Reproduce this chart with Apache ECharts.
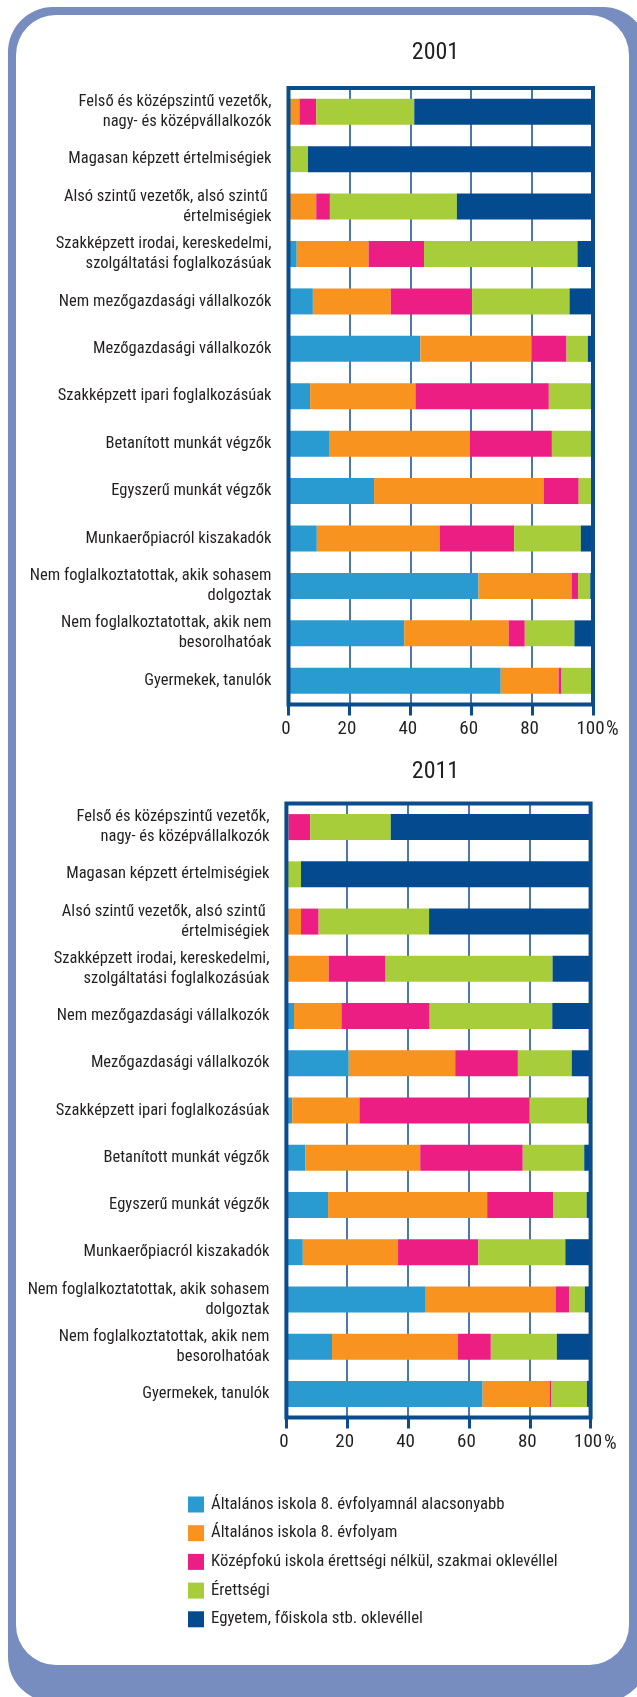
<!DOCTYPE html>
<html>
<head>
<meta charset="utf-8">
<script src="https://cdn.jsdelivr.net/npm/echarts@6/dist/echarts.min.js"></script>
<style>
html, body { margin: 0; padding: 0; background: #fff; }
#canvas { width: 637px; height: 1697px; }
</style>
</head>
<body>
<div id="canvas"></div>
<script>
var FONT = "'Roboto Condensed', 'DejaVu Sans Condensed', sans-serif";
var TXT = '#231F20';
var NAVY = '#0B4C8E';

var categories = [
  'Felső és középszintű vezetők,\nnagy- és középvállalkozók',
  'Magasan képzett értelmiségiek',
  'Alsó szintű vezetők, alsó szintű \nértelmiségiek',
  'Szakképzett irodai, kereskedelmi,\nszolgáltatási foglalkozásúak',
  'Nem mezőgazdasági vállalkozók',
  'Mezőgazdasági vállalkozók',
  'Szakképzett ipari foglalkozásúak',
  'Betanított munkát végzők',
  'Egyszerű munkát végzők',
  'Munkaerőpiacról kiszakadók',
  'Nem foglalkoztatottak, akik sohasem\ndolgoztak',
  'Nem foglalkoztatottak, akik nem\nbesorolhatóak',
  'Gyermekek, tanulók'
];

var seriesNames = [
  'Általános iskola 8. évfolyamnál alacsonyabb',
  'Általános iskola 8. évfolyam',
  'Középfokú iskola érettségi nélkül, szakmai oklevéllel',
  'Érettségi',
  'Egyetem, főiskola stb. oklevéllel'
];
var colors = ['#299BD0', '#F7931E', '#EC1E83', '#A8CD3A', '#034B8E'];

var xTicks = [0, 20, 40, 60, 80, 100];

// 2001
var a2001 = [0, 0, 0, 2.7, 8.0, 43.3, 7.1, 13.3, 28.1, 9.3, 62.4, 38.0, 69.7];
var b2001 = [3.6, 0, 9.1, 23.6, 25.6, 36.6, 34.6, 46.2, 55.8, 40.4, 30.7, 34.3, 19.0];
var c2001 = [5.5, 0, 4.5, 18.2, 26.7, 11.4, 43.8, 27.0, 11.4, 24.4, 2.0, 5.3, 0.8];
var d2001 = [32.2, 6.4, 41.7, 50.4, 32.0, 7.0, 13.8, 12.8, 4.4, 21.9, 4.0, 16.3, 10.2];
var e2001 = [58.7, 93.6, 44.7, 5.1, 7.7, 1.7, 0.7, 0.7, 0.3, 4.0, 0.9, 6.1, 0.3];

// 2011
var a2011 = [0, 0, 0, 0.3, 2.5, 20.5, 1.9, 6.2, 13.7, 5.4, 45.8, 15.0, 64.5];
var b2011 = [0.7, 0, 4.8, 13.6, 15.6, 35.0, 22.1, 37.8, 52.3, 31.3, 42.7, 41.3, 22.0];
var c2011 = [7.1, 0, 5.8, 18.7, 29.0, 20.6, 55.9, 33.7, 21.7, 26.4, 4.5, 10.9, 0.5];
var d2011 = [26.5, 4.8, 36.3, 54.9, 40.3, 17.7, 18.9, 20.2, 11.0, 28.6, 5.1, 21.7, 11.8];
var e2011 = [65.7, 95.2, 53.1, 12.5, 12.6, 6.2, 1.2, 2.1, 1.3, 8.3, 1.9, 11.1, 1.2];

var data2001 = [a2001, b2001, c2001, d2001, e2001];
var data2011 = [a2011, b2011, c2011, d2011, e2011];

function xAxisFor(idx) {
  return {
    type: 'value', gridIndex: idx, min: 0, max: 100, interval: 20,
    axisLine: { show: false },
    axisTick: { show: true, length: 11, lineStyle: { color: NAVY, width: 3 } },
    splitLine: { show: true, lineStyle: { color: NAVY, width: 1.5 } },
    axisLabel: {
      margin: 15, fontFamily: FONT, fontSize: 19, color: TXT, padding: [0, 5, 0, 0],
      formatter: function (v) { return xTicks.indexOf(v) >= 0 ? String(v) : ''; }
    }
  };
}

function yAxisFor(idx) {
  return {
    type: 'category', gridIndex: idx, data: categories, inverse: true,
    axisLine: { show: false }, axisTick: { show: false }, splitLine: { show: false },
    axisLabel: { margin: 17, fontFamily: FONT, fontSize: 16.5, lineHeight: 20, color: TXT, align: 'right' }
  };
}

var series = [];
[data2001, data2011].forEach(function (set, gi) {
  set.forEach(function (vals, si) {
    series.push({
      name: seriesNames[si], type: 'bar', stack: 'st' + gi,
      xAxisIndex: gi, yAxisIndex: gi, barWidth: 26,
      itemStyle: { color: colors[si] },
      data: vals
    });
  });
});

var myChart = echarts.init(document.getElementById('canvas'), null, { renderer: 'canvas' });
var option = {
  animation: false,
  color: colors,
  graphic: {
    z: -1,
    elements: [
      { type: 'rect', shape: { x: 8, y: 7, width: 640, height: 1695, r: 45 }, style: { fill: '#778DBF' } },
      { type: 'rect', shape: { x: 16, y: 15, width: 613, height: 1650, r: 40 }, style: { fill: '#fff' } },
      { type: 'text', x: 435.5, y: 53, style: { text: '2001', align: 'center', verticalAlign: 'middle', font: '24px ' + FONT, fill: TXT } },
      { type: 'text', x: 435.5, y: 772, style: { text: '2011', align: 'center', verticalAlign: 'middle', font: '24px ' + FONT, fill: TXT } },
      { type: 'text', x: 606, y: 730, style: { text: '%', align: 'left', verticalAlign: 'middle', font: '20px ' + FONT, fill: TXT } },
      { type: 'text', x: 604, y: 1444, style: { text: '%', align: 'left', verticalAlign: 'middle', font: '20px ' + FONT, fill: TXT } }
    ]
  },
  legend: {
    data: seriesNames, orient: 'vertical', left: 183, top: 1491,
    itemWidth: 16, itemHeight: 16, itemGap: 11.7, icon: 'rect',
    textStyle: { fontFamily: FONT, fontSize: 16.8, color: TXT, padding: [0, 0, 0, 2] }
  },
  grid: [
    { left: 288.5, top: 88, width: 304.5, height: 616.5, show: true, z: 5,
      backgroundColor: 'transparent', borderColor: NAVY, borderWidth: 4 },
    { left: 286.4, top: 803.5, width: 304.2, height: 614, show: true, z: 5,
      backgroundColor: 'transparent', borderColor: NAVY, borderWidth: 4 }
  ],
  xAxis: [xAxisFor(0), xAxisFor(1)],
  yAxis: [yAxisFor(0), yAxisFor(1)],
  series: series
};
myChart.setOption(option);
window.onresize = myChart.resize;
</script>
</body>
</html>
